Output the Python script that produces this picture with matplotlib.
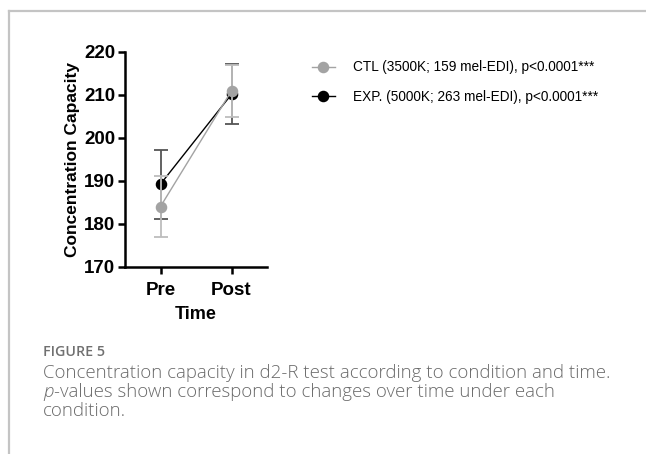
import matplotlib
matplotlib.use("Agg")
import matplotlib.pyplot as plt
from matplotlib.lines import Line2D

# ---- data ----
time_labels = ["Pre", "Post"]
ctl_mean = [184.0, 210.9]
ctl_err = [7.0, 6.0]
exp_mean = [189.2, 210.1]
exp_err = [8.0, 7.0]
legend_labels = ["CTL (3500K; 159 mel-EDI), p<0.0001***",
                 "EXP. (5000K; 263 mel-EDI), p<0.0001***"]
y_ticks = [170, 180, 190, 200, 210, 220]
caption_title = "FIGURE 5"
caption_line1 = "Concentration capacity in d2-R test according to condition and time."
caption_p = "p"
caption_line2 = "-values shown correspond to changes over time under each"
caption_line3 = "condition."

W, H = 646, 454
fig = plt.figure(figsize=(W / 100, H / 100), dpi=100)
fig.patch.set_facecolor("white")

# frame lines (figure panel border)
fig.add_artist(Line2D([8.5 / W, 1.0], [1 - 11 / H, 1 - 11 / H], color="#c4c4c4", lw=1.6, transform=fig.transFigure))
fig.add_artist(Line2D([8.5 / W, 8.5 / W], [1 - 11 / H, 0.0], color="#c4c4c4", lw=1.6, transform=fig.transFigure))

ax = fig.add_axes([125 / W, 1 - 266.7 / H, 142 / W, 215 / H])
x = list(range(len(time_labels)))

# EXP first (underneath), then CTL
ax.errorbar(x, exp_mean, yerr=exp_err, color="black", ecolor="#555555", elinewidth=1.3,
            capsize=4.8, capthick=1.3, lw=1.0, marker="o", markersize=7.3, zorder=3)
ax.errorbar(x, ctl_mean, yerr=ctl_err, color="#a3a3a3", ecolor="#bdbdbd", elinewidth=1.3,
            capsize=4.8, capthick=1.3, lw=1.0, marker="o", markersize=7.3, zorder=4)

ax.set_xlim(-0.5, 1.5)
ax.set_ylim(170, 220)
ax.set_yticks(y_ticks)
ax.set_xticks(x)
ax.set_xticklabels(time_labels)
for s in ["top", "right"]:
    ax.spines[s].set_visible(False)
for s in ["left", "bottom"]:
    ax.spines[s].set_linewidth(1.8)
ax.tick_params(axis="both", width=1.8, length=5, labelsize=13.5)
ax.tick_params(axis="x", pad=6)
ax.tick_params(axis="y", pad=2)
for lab in ax.get_xticklabels() + ax.get_yticklabels():
    lab.set_fontfamily("Liberation Sans")
    lab.set_fontweight("bold")
ax.set_ylabel("Concentration Capacity", fontfamily="Liberation Sans", fontweight="bold", fontsize=12.5, labelpad=3)
ax.set_xlabel("Time", fontfamily="Liberation Sans", fontweight="bold", fontsize=13, labelpad=5)

handles = [Line2D([], [], color="#a3a3a3", marker="o", markersize=7.3, lw=1.0),
           Line2D([], [], color="black", marker="o", markersize=7.3, lw=1.0)]
fig.legend(handles, legend_labels, loc="upper left", bbox_to_anchor=(305 / W, 1 - 53.5 / H),
           frameon=False, prop={"family": "Liberation Sans", "size": 9.8},
           handlelength=1.7, handletextpad=1.3, labelspacing=1.13, borderpad=0)

# caption
cap_color = "#6a6a6a"
fig.text(43 / W, 1 - 356 / H, caption_title, fontfamily="Open Sans", fontweight="semibold",
         fontsize=10.3, color="#707070", va="baseline")
cap_kw = dict(fontfamily="Open Sans", fontweight="light", fontsize=13.4, color=cap_color)
fig.text(43 / W, 1 - 377.5 / H, caption_line1, va="baseline", **cap_kw)
pt = fig.text(43 / W, 1 - 397 / H, caption_p, fontstyle="italic", va="baseline", **cap_kw)
ax.annotate(caption_line2, xy=(1, 0), xycoords=pt, xytext=(0.5, 0), textcoords="offset points",
            va="bottom", ha="left", annotation_clip=False, **cap_kw)
fig.text(43 / W, 1 - 416.5 / H, caption_line3, va="baseline", **cap_kw)

fig.savefig("out.png", dpi=100)
